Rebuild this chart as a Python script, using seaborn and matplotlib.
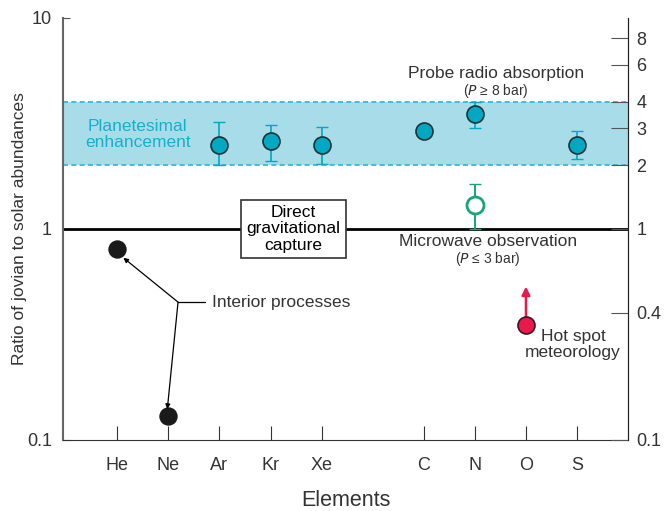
import matplotlib
matplotlib.use("Agg")
import matplotlib.pyplot as plt
import numpy as np
import pandas as pd
import seaborn as sns

sns.set_style("ticks")
plt.rcParams['font.family'] = ['Liberation Sans', 'DejaVu Sans']

# data
elements = ["He", "Ne", "Ar", "Kr", "Xe", "C", "N", "O", "S"]
positions = [0, 1, 2, 3, 4, 6, 7, 8, 9]

interior_el = ["He", "Ne"]
interior_val = [0.80, 0.13]

probe_el = ["Ar", "Kr", "Xe", "C", "N", "S"]
probe_val = [2.5, 2.6, 2.5, 2.9, 3.5, 2.5]
probe_lo = [2.0, 2.1, 2.03, 2.9, 3.0, 2.15]
probe_hi = [3.2, 3.1, 3.05, 2.9, 4.0, 2.9]

micro_el = ["N"]
micro_val = [1.3]
micro_lo = [1.0]
micro_hi = [1.63]

hotspot_el = ["O"]
hotspot_val = [0.35]
hotspot_arrow_to = 0.55

band = (2, 4)
right_ticks = [0.1, 0.4, 1, 2, 3, 4, 6, 8]

pos = dict(zip(elements, positions))
teal = "#00a8c2"
cyan_line = "#2ab7d2"
band_fill = "#a9dce9"
green = "#17a57a"
red = "#e8194b"
txt = "#333333"

fig = plt.figure(figsize=(6.64, 5.11), dpi=100)
ax = fig.add_axes([0.095, 0.139, 0.851, 0.826])
ax.set_yscale("log")
ax.set_ylim(0.1, 10)
ax.set_xlim(-1.06, 10.0)

# planetesimal band
ax.axhspan(band[0], band[1], color=band_fill, lw=0, zorder=0)
for b in band:
    ax.axhline(b, color=cyan_line, ls=(0, (3, 2)), lw=1.2, zorder=1)
ax.axhline(1, color="black", lw=2, zorder=1)

# error bars
px = [pos[e] for e in probe_el]
yerr = [np.array(probe_val) - np.array(probe_lo), np.array(probe_hi) - np.array(probe_val)]
ax.errorbar(px, probe_val, yerr=yerr, fmt="none", ecolor=teal, elinewidth=1.2, capsize=4, zorder=2)
mx = [pos[e] for e in micro_el]
myerr = [np.array(micro_val) - np.array(micro_lo), np.array(micro_hi) - np.array(micro_val)]
ax.errorbar(mx, micro_val, yerr=myerr, fmt="none", ecolor=green, elinewidth=1.4, capsize=4, zorder=2)

# markers
df_probe = pd.DataFrame({"x": px, "y": probe_val})
sns.scatterplot(data=df_probe, x="x", y="y", ax=ax, s=150, color=teal, edgecolor="#1c3338", linewidth=1.2, zorder=3)
df_int = pd.DataFrame({"x": [pos[e] for e in interior_el], "y": interior_val})
sns.scatterplot(data=df_int, x="x", y="y", ax=ax, s=150, color="#1a1a1a", edgecolor="#1a1a1a", zorder=3)
df_mic = pd.DataFrame({"x": mx, "y": micro_val})
sns.scatterplot(data=df_mic, x="x", y="y", ax=ax, s=150, facecolor="white", edgecolor=green, linewidth=2, zorder=3)
hx = [pos[e] for e in hotspot_el]
ax.annotate("", xy=(hx[0], hotspot_arrow_to), xytext=(hx[0], hotspot_val[0]),
            arrowprops=dict(arrowstyle="-|>", color=red, lw=1.8, mutation_scale=12), zorder=2)
df_hot = pd.DataFrame({"x": hx, "y": hotspot_val})
sns.scatterplot(data=df_hot, x="x", y="y", ax=ax, s=150, color=red, edgecolor="#3a1a20", linewidth=1.2, zorder=3)

# annotations
fs = 12.5
ax.text(0.4, 2.8, "Planetesimal\nenhancement", color="#16b0cc", fontsize=fs,
        ha="center", va="center", linespacing=1.15)
ax.text(3.45, 1.0, "Direct\ngravitational\ncapture", color="black", fontsize=fs, ha="center", va="center",
        linespacing=1.1, bbox=dict(boxstyle="square,pad=0.3", fc="white", ec="#333333", lw=1.2), zorder=4)
ax.text(7.42, 5.45, "Probe radio absorption", color=txt, fontsize=fs, ha="center", va="center")
ax.text(7.42, 4.5, r"($\it{P}$ ≥ 8 bar)", color=txt, fontsize=10, ha="center", va="center")
ax.text(7.26, 0.87, "Microwave observation", color=txt, fontsize=fs, ha="center", va="center")
ax.text(7.26, 0.72, r"($\it{P}$ ≤ 3 bar)", color=txt, fontsize=10, ha="center", va="center")
ax.text(8.92, 0.283, "Hot spot\nmeteorology", color=txt, fontsize=fs, ha="center", va="center", linespacing=1.1)
ax.text(1.86, 0.45, "Interior processes", color=txt, fontsize=fs, ha="left", va="center")
ax.plot([1.19, 1.72], [0.45, 0.45], color="black", lw=0.9)
ax.annotate("", xy=(0.12, 0.73), xytext=(1.19, 0.45),
            arrowprops=dict(arrowstyle="-|>", color="black", lw=0.9, mutation_scale=7, shrinkA=0, shrinkB=0))
ax.annotate("", xy=(0.98, 0.14), xytext=(1.19, 0.45),
            arrowprops=dict(arrowstyle="-|>", color="black", lw=0.9, mutation_scale=7, shrinkA=0, shrinkB=0))

# axes
ax.set_xticks(positions)
ax.set_xticklabels(elements)
ax.set_yticks([0.1, 1, 10])
ax.set_yticklabels(["0.1", "1", "10"])
ax.minorticks_off()
ax.tick_params(direction="in", labelsize=13, colors=txt, pad=8)
ax.tick_params(axis="x", length=10, pad=12)
ax.tick_params(axis="y", length=5, colors="#555555", labelcolor=txt)
ax.set_xlabel("Elements", fontsize=15.5, color=txt, labelpad=12)
ax.set_ylabel("Ratio of jovian to solar abundances", fontsize=12.5, color=txt, labelpad=0)
ax.spines["top"].set_visible(False)
ax.spines["left"].set_color("#666666")
ax.spines["left"].set_linewidth(1.5)
ax.spines["bottom"].set_color("#333333")
ax.spines["right"].set_color("#222222")

ax2 = ax.twinx()
ax2.set_yscale("log")
ax2.set_ylim(0.1, 10)
ax2.set_yticks(right_ticks)
ax2.set_yticklabels([str(t) for t in right_ticks])
ax2.minorticks_off()
ax2.tick_params(direction="in", length=12, labelsize=13, colors="#555555", labelcolor=txt, pad=6)
ax2.spines["top"].set_visible(False)
ax2.spines["left"].set_visible(False)
ax2.spines["bottom"].set_visible(False)
ax2.spines["right"].set_color("#222222")

fig.savefig("out.png", dpi=100)
